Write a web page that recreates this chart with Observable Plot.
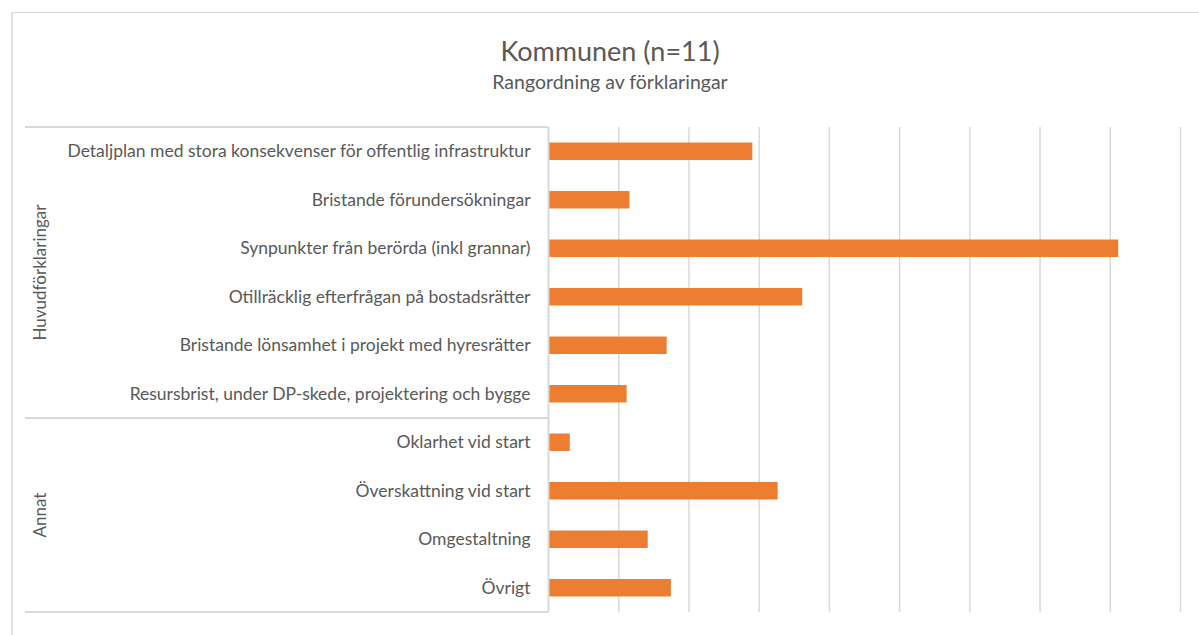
<!DOCTYPE html>
<html>
<head>
<meta charset="utf-8">
<script src="https://cdn.jsdelivr.net/npm/d3@7"></script>
<script src="https://cdn.jsdelivr.net/npm/@observablehq/plot@0.6"></script>
<style>
  html, body { margin: 0; padding: 0; background: #fff; }
  body { width: 1199px; height: 635px; position: relative; overflow: hidden; font-family: Lato, "Open Sans", sans-serif; }
  #frame { position: absolute; left: 11px; top: 12px; width: 1300px; height: 700px; border-left: 2px solid #e0e0e0; border-top: 1px solid #d9d9d9; }
  #title { position: absolute; left: 360px; width: 500px; top: 35px; text-align: center; font-size: 27px; line-height: 32px; color: #595959; }
  #subtitle { position: absolute; left: 360px; width: 500px; top: 70px; text-align: center; font-size: 19.5px; line-height: 24px; color: #595959; }
  #chart { position: absolute; left: 0; top: 100px; }
</style>
</head>
<body>
<div id="frame"></div>
<div id="title">Kommunen (n=11)</div>
<div id="subtitle">Rangordning av förklaringar</div>
<div id="chart"></div>
<script>
const categories = [
  "Detaljplan med stora konsekvenser för offentlig infrastruktur",
  "Bristande förundersökningar",
  "Synpunkter från berörda (inkl grannar)",
  "Otillräcklig efterfrågan på bostadsrätter",
  "Bristande lönsamhet i projekt med hyresrätter",
  "Resursbrist, under DP-skede, projektering och bygge",
  "Oklarhet vid start",
  "Överskattning vid start",
  "Omgestaltning",
  "Övrigt"
];
const values = [2.91, 1.16, 8.12, 3.62, 1.69, 1.12, 0.31, 3.27, 1.42, 1.75];
const groups = [
  "Huvudförklaringar", "Huvudförklaringar", "Huvudförklaringar",
  "Huvudförklaringar", "Huvudförklaringar", "Huvudförklaringar",
  "Annat", "Annat", "Annat", "Annat"
];
const xTicks = [0, 1, 2, 3, 4, 5, 6, 7, 8, 9];

const data = categories.map((c, i) => ({category: c, value: values[i], group: groups[i]}));

const W = 1199, H = 535;
const plot = Plot.plot({
  width: W,
  height: H,
  marginLeft: 548,
  marginRight: 19,
  marginTop: 27,
  marginBottom: 23,
  style: {fontFamily: "Lato, 'Open Sans', sans-serif", fontSize: "17.5px", color: "#595959", background: "transparent"},
  x: {domain: [0, 9], axis: null},
  y: {domain: categories, paddingInner: 0.64, paddingOuter: 0.32, align: 0.5, round: false, label: null},
  marks: [
    Plot.gridX(xTicks.slice(1), {stroke: "#d9d9d9", strokeOpacity: 1, strokeWidth: 1.5}),
    Plot.barX(data, {x: "value", y: "category", fill: "#ed7d31"}),
    Plot.ruleX([0], {stroke: "#d9d9d9", strokeWidth: 2}),
    Plot.axisY({tickSize: 0, tickPadding: 18, fill: "#595959", fontSize: 17.5, label: null})
  ]
});
document.getElementById("chart").appendChild(plot);

// Group box: separators and rotated group labels, positioned with the plot's own y scale
const y = plot.scale("y");
const step = y.step;
const bw = y.bandwidth;
const svg = d3.select(plot);
const boxLeft = 25;
const axisX = 548;
const groupNames = [...new Set(groups)];
const g = svg.append("g");
groupNames.forEach((gn, gi) => {
  const members = categories.filter((c, i) => groups[i] === gn);
  const top = y.apply(members[0]) - (step - bw) / 2;
  const bottom = y.apply(members[members.length - 1]) + bw + (step - bw) / 2;
  g.append("line").attr("x1", boxLeft).attr("x2", axisX).attr("y1", top).attr("y2", top)
    .attr("stroke", "#d9d9d9").attr("stroke-width", 2);
  if (gi === groupNames.length - 1) {
    g.append("line").attr("x1", boxLeft).attr("x2", axisX).attr("y1", bottom).attr("y2", bottom)
      .attr("stroke", "#d9d9d9").attr("stroke-width", 2);
  }
  const cy = (top + bottom) / 2;
  g.append("text").attr("transform", `translate(46,${cy}) rotate(-90)`)
    .attr("text-anchor", "middle").attr("fill", "#595959")
    .attr("font-size", 17).text(gn);
});
</script>
</body>
</html>
